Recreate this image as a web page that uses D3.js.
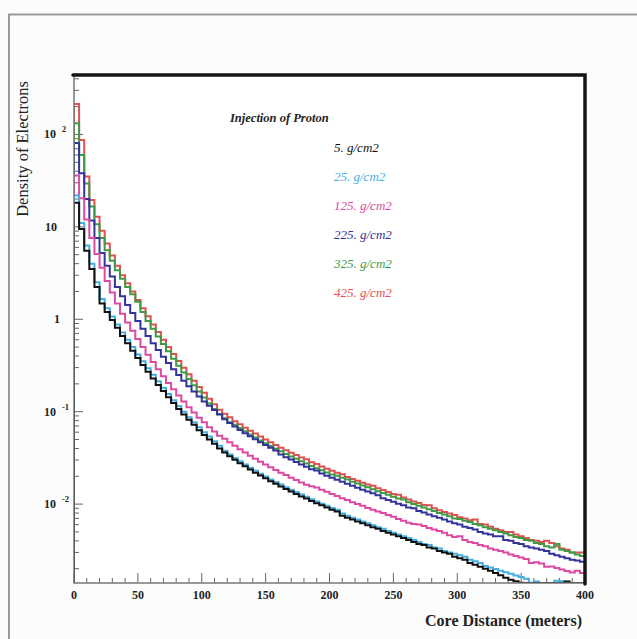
<!DOCTYPE html>
<html>
<head>
<meta charset="utf-8">
<script src="https://cdn.jsdelivr.net/npm/d3@7"></script>
<style>
  body { margin: 0; background: #fcfcfc; }
  svg { display: block; }
  text { font-family: "Liberation Serif", "Times New Roman", serif; }
</style>
</head>
<body>
<svg id="chart" width="637" height="639"></svg>
<script>
// histogram bins: 4 m wide, 0 .. 400 m
const binWidth = 4;
const depthLabels = ['5. g/cm2', '25. g/cm2', '125. g/cm2', '225. g/cm2', '325. g/cm2', '425. g/cm2'];
const yTickExps = [-2, -1, 0, 1, 2];
const xTickLabels = [0, 50, 100, 150, 200, 250, 300, 350, 400];

// electron density per bin
const dens425 = [
  214, 87, 35, 19.5, 12.9, 9.1, 6.6, 4.9, 3.8, 3.0,
  2.45, 2.0, 1.62, 1.32, 1.08, 0.88, 0.73, 0.60, 0.50, 0.42,
  0.353, 0.299, 0.254, 0.216, 0.185, 0.160, 0.138, 0.120, 0.105, 0.095,
  0.087, 0.079, 0.073, 0.067, 0.062, 0.058, 0.054, 0.050, 0.0466, 0.0436,
  0.0408, 0.0383, 0.0360, 0.0339, 0.0319, 0.0305, 0.0284, 0.0272, 0.0255, 0.0242,
  0.0229, 0.0218, 0.0211, 0.0197, 0.0187, 0.0179, 0.0170, 0.0163, 0.0158, 0.0148,
  0.0142, 0.0135, 0.0129, 0.0126, 0.0118, 0.0112, 0.0107, 0.0103, 0.0098, 0.0097,
  0.0090, 0.0086, 0.0082, 0.0079, 0.0076, 0.0072, 0.0070, 0.0067, 0.0068, 0.0061,
  0.0060, 0.0057, 0.0054, 0.0052, 0.0050, 0.0050, 0.0047, 0.0045, 0.0043, 0.0041,
  0.0040, 0.0039, 0.0040, 0.0038, 0.0035, 0.0033, 0.0032, 0.0030, 0.0030, 0.0030
];
const dens325 = [
  132, 60, 29.5, 16.6, 10.7, 7.6, 5.6, 4.3, 3.4, 2.75,
  2.24, 1.86, 1.55, 1.20, 0.96, 0.79, 0.65, 0.54, 0.45, 0.374,
  0.315, 0.266, 0.226, 0.193, 0.165, 0.142, 0.123, 0.107, 0.093, 0.085,
  0.077, 0.072, 0.0665, 0.0614, 0.0568, 0.0526, 0.0489, 0.0455, 0.0425, 0.0397,
  0.0372, 0.0349, 0.0328, 0.0309, 0.0291, 0.0275, 0.0259, 0.0245, 0.0232, 0.0220,
  0.0209, 0.0203, 0.0193, 0.0184, 0.0175, 0.0167, 0.0159, 0.0152, 0.0145, 0.0138,
  0.0132, 0.0126, 0.0120, 0.0115, 0.0112, 0.0105, 0.0100, 0.0096, 0.0092, 0.0088,
  0.0084, 0.0080, 0.0077, 0.0074, 0.0070, 0.0069, 0.0066, 0.0064, 0.0061, 0.0059,
  0.0056, 0.0054, 0.0052, 0.0050, 0.0048, 0.0046, 0.0044, 0.0043, 0.0041, 0.0040,
  0.0038, 0.0037, 0.0035, 0.0034, 0.0037, 0.0032, 0.0031, 0.0030, 0.00285, 0.00275
];
const dens225 = [
  81, 38, 20, 11.7, 7.6, 5.2, 3.8, 2.9, 2.24, 1.78,
  1.43, 1.17, 0.96, 0.79, 0.66, 0.55, 0.466, 0.394, 0.337, 0.288,
  0.249, 0.216, 0.188, 0.165, 0.146, 0.129, 0.116, 0.104, 0.094, 0.083,
  0.0755, 0.0692, 0.0635, 0.0586, 0.0542, 0.0502, 0.0467, 0.0435, 0.0406, 0.0379,
  0.0344, 0.0322, 0.0303, 0.0285, 0.0269, 0.0254, 0.0239, 0.0231, 0.0214, 0.0203,
  0.0193, 0.0183, 0.0174, 0.0166, 0.0158, 0.0150, 0.0143, 0.0137, 0.0131, 0.0125,
  0.0116, 0.0111, 0.0106, 0.0101, 0.0097, 0.0092, 0.0090, 0.0084, 0.0081, 0.0077,
  0.0074, 0.0071, 0.0068, 0.0065, 0.0062, 0.0060, 0.0057, 0.0055, 0.0053, 0.0050,
  0.0048, 0.0047, 0.0045, 0.0045, 0.0041, 0.0040, 0.0038, 0.0037, 0.0035, 0.0034,
  0.0033, 0.0032, 0.0031, 0.0029, 0.0028, 0.0027, 0.0026, 0.0025, 0.00245, 0.00237
];
const dens125 = [
  36, 20.4, 12.0, 7.6, 5.1, 3.6, 2.6, 1.95, 1.48, 1.15,
  0.92, 0.75, 0.61, 0.50, 0.414, 0.344, 0.288, 0.242, 0.205, 0.175,
  0.150, 0.129, 0.112, 0.098, 0.086, 0.077, 0.068, 0.061, 0.055, 0.051,
  0.0466, 0.0427, 0.0392, 0.0361, 0.0334, 0.0310, 0.0288, 0.0268, 0.0250, 0.0234,
  0.0219, 0.0206, 0.0193, 0.0182, 0.0171, 0.0162, 0.0156, 0.0151, 0.0143, 0.0136,
  0.0129, 0.0122, 0.0116, 0.0111, 0.0105, 0.0100, 0.0096, 0.0091, 0.0087, 0.0083,
  0.0080, 0.0076, 0.0073, 0.0069, 0.0066, 0.0063, 0.0061, 0.0060, 0.0058, 0.0055,
  0.0053, 0.0051, 0.0049, 0.0046, 0.0044, 0.0045, 0.0041, 0.0039, 0.0038, 0.0036,
  0.0035, 0.0033, 0.0032, 0.0031, 0.0030, 0.00285, 0.00274, 0.00264, 0.00254, 0.0023,
  0.00235, 0.00227, 0.0021, 0.00211, 0.00203, 0.00196, 0.00189, 0.00182, 0.0019, 0.0018
];
const dens25 = [
  21.9, 11.0, 6.3, 4.0, 2.51, 1.66, 1.32, 1.07, 0.88, 0.72,
  0.60, 0.50, 0.417, 0.351, 0.295, 0.251, 0.214, 0.182, 0.155, 0.133,
  0.115, 0.100, 0.087, 0.077, 0.068, 0.060, 0.054, 0.048, 0.0427, 0.0378,
  0.0345, 0.0316, 0.0290, 0.0268, 0.0248, 0.0230, 0.0213, 0.0199, 0.0185, 0.0173,
  0.0163, 0.0152, 0.0143, 0.0135, 0.0127, 0.0120, 0.0113, 0.0107, 0.0101, 0.0096,
  0.0091, 0.0087, 0.0079, 0.0075, 0.0071, 0.0068, 0.0065, 0.0062, 0.0059, 0.0056,
  0.0054, 0.0051, 0.0049, 0.0047, 0.0045, 0.0043, 0.0041, 0.0039, 0.0037, 0.0036,
  0.0034, 0.0033, 0.0031, 0.0030, 0.0029, 0.0028, 0.0027, 0.0025, 0.0024, 0.0023,
  0.00214, 0.00206, 0.00198, 0.0019, 0.00183, 0.00176, 0.00169, 0.00163, 0.00156, 0.00141,
  0.00145, 0.0013, 0.0012, 0.0012, 0.00148, 0.00146, 0.0012, 0.0012, 0.0012, 0.0012
];
const dens5 = [
  18.2, 9.5, 5.5, 3.5, 2.24, 1.48, 1.20, 0.98, 0.81, 0.66,
  0.55, 0.457, 0.382, 0.321, 0.270, 0.229, 0.195, 0.167, 0.143, 0.124,
  0.107, 0.093, 0.082, 0.072, 0.063, 0.056, 0.050, 0.045, 0.040, 0.0361,
  0.0330, 0.0302, 0.0277, 0.0256, 0.0237, 0.0219, 0.0204, 0.0190, 0.0177, 0.0166,
  0.0155, 0.0146, 0.0137, 0.0129, 0.0121, 0.0115, 0.0108, 0.0102, 0.0097, 0.0092,
  0.0087, 0.0083, 0.0075, 0.0071, 0.0068, 0.0065, 0.0062, 0.0059, 0.0056, 0.0054,
  0.0051, 0.0049, 0.0047, 0.0045, 0.0043, 0.0041, 0.0039, 0.0037, 0.0036, 0.0034,
  0.0033, 0.0031, 0.0030, 0.0029, 0.0027, 0.0026, 0.0025, 0.0023, 0.0022, 0.0021,
  0.0020, 0.0019, 0.0018, 0.0017, 0.0016, 0.00152, 0.00146, 0.00141, 0.0012, 0.0012,
  0.0012, 0.0012, 0.0012, 0.0012, 0.0012, 0.0012, 0.00145, 0.0012, 0.0012, 0.0012
];

const series = [
  { label: depthLabels[5], values: dens425, color: '#e0504e' },
  { label: depthLabels[4], values: dens325, color: '#3f9a48' },
  { label: depthLabels[3], values: dens225, color: '#34339a' },
  { label: depthLabels[2], values: dens125, color: '#dc4aa2' },
  { label: depthLabels[1], values: dens25, color: '#45aee0' },
  { label: depthLabels[0], values: dens5, color: '#111111' },
];
const legendOrder = [5, 4, 3, 2, 1, 0];

const svg = d3.select('#chart');
const margin = { left: 74, top: 75, right: 585, bottom: 583 };

// scanned page frame
svg.append('path')
  .attr('d', 'M9,640 V14.5 H640')
  .attr('fill', 'none')
  .attr('stroke', '#9a9a9a')
  .attr('stroke-width', 2);

svg.append('rect')
  .attr('x', margin.left).attr('y', margin.top)
  .attr('width', margin.right - margin.left).attr('height', margin.bottom - margin.top)
  .attr('fill', '#fff');

const x = d3.scaleLinear().domain([0, 400]).range([margin.left, margin.right]);
const y = d3.scaleLog().domain([1.4e-3, 440]).range([margin.bottom, margin.top]).clamp(true);

svg.append('clipPath').attr('id', 'plot')
  .append('rect')
  .attr('x', margin.left).attr('y', margin.top - 2)
  .attr('width', margin.right - margin.left).attr('height', margin.bottom - margin.top + 2);

// ticks (inside)
const minorY = [];
for (let e = -3; e <= 2; e++) {
  for (let m = 1; m < 10; m++) {
    const v = m * Math.pow(10, e);
    if (v >= 1.4e-3 && v <= 440) minorY.push(v);
  }
}
const ticks = svg.append('g').attr('stroke', '#666').attr('stroke-width', 1);
ticks.selectAll('line.ym').data(minorY).join('line')
  .attr('x1', margin.left).attr('x2', d => margin.left + (Math.abs(Math.log10(d) % 1) < 1e-9 ? 9 : 5))
  .attr('y1', d => y(d)).attr('y2', d => y(d));
ticks.selectAll('line.xm').data(d3.range(0, 401, 10)).join('line')
  .attr('x1', d => x(d)).attr('x2', d => x(d))
  .attr('y1', margin.bottom).attr('y2', d => margin.bottom - (d % 50 === 0 ? 10 : 5));

// histograms
const line = d3.line()
  .x(d => x(d[0]))
  .y(d => y(d[1]))
  .curve(d3.curveStepAfter);

const curves = svg.append('g').attr('clip-path', 'url(#plot)');
series.forEach(s => {
  const pts = [[0, 1e-4]];
  s.values.forEach((v, i) => pts.push([i * binWidth, v]));
  pts.push([s.values.length * binWidth, s.values[s.values.length - 1]]);
  curves.append('path')
    .attr('d', line(pts))
    .attr('fill', 'none')
    .attr('stroke', s.color)
    .attr('stroke-width', 2);
});

// axis lines: thin grey left/bottom, heavy black top/right
svg.append('path')
  .attr('d', `M${margin.left},${margin.top} V${margin.bottom} H${margin.right}`)
  .attr('fill', 'none').attr('stroke', '#777').attr('stroke-width', 1.5);
svg.append('path')
  .attr('d', `M${margin.left - 1},${margin.top} H${margin.right} V${margin.bottom + 1}`)
  .attr('fill', 'none').attr('stroke', '#151515').attr('stroke-width', 3.5)
  .attr('stroke-linecap', 'round');

// y labels
const yl = svg.append('g').attr('font-weight', 'bold').attr('font-size', 12).attr('fill', '#222');
yTickExps.forEach(e => {
  const t = yl.append('text').attr('y', y(Math.pow(10, e)) + 4);
  if (e === 0) {
    t.attr('x', 60).attr('text-anchor', 'end').text('1');
  } else if (e === 1) {
    t.attr('x', 57).attr('text-anchor', 'end').text('10');
  } else {
    t.attr('x', 44).text('10');
    t.append('tspan').attr('x', 62).attr('dy', -6).attr('font-size', 8.5).text(String(e));
  }
});

// x labels
svg.append('g').attr('font-weight', 'bold').attr('font-size', 12).attr('fill', '#222')
  .selectAll('text').data(xTickLabels).join('text')
  .attr('x', d => x(d)).attr('y', 599).attr('text-anchor', 'middle')
  .text(d => d);

// axis titles
svg.append('text')
  .attr('x', 582).attr('y', 626).attr('text-anchor', 'end')
  .attr('font-weight', 'bold').attr('font-size', 16).attr('fill', '#222')
  .text('Core Distance (meters)');
svg.append('text')
  .attr('transform', 'translate(28,149) rotate(-90)')
  .attr('text-anchor', 'middle')
  .attr('font-size', 16.5).attr('fill', '#222')
  .text('Density of Electrons');

// legend
svg.append('text')
  .attr('x', 230).attr('y', 122)
  .attr('font-style', 'italic').attr('font-weight', 'bold').attr('font-size', 12.5).attr('fill', '#222')
  .text('Injection of Proton');
const leg = svg.append('g').attr('font-style', 'italic').attr('font-size', 13);
legendOrder.forEach((k, i) => {
  const s = series[k];
  leg.append('text')
    .attr('x', 334).attr('y', 152 + i * 29)
    .attr('fill', s.color)
    .text(s.label);
});
</script>
</body>
</html>
